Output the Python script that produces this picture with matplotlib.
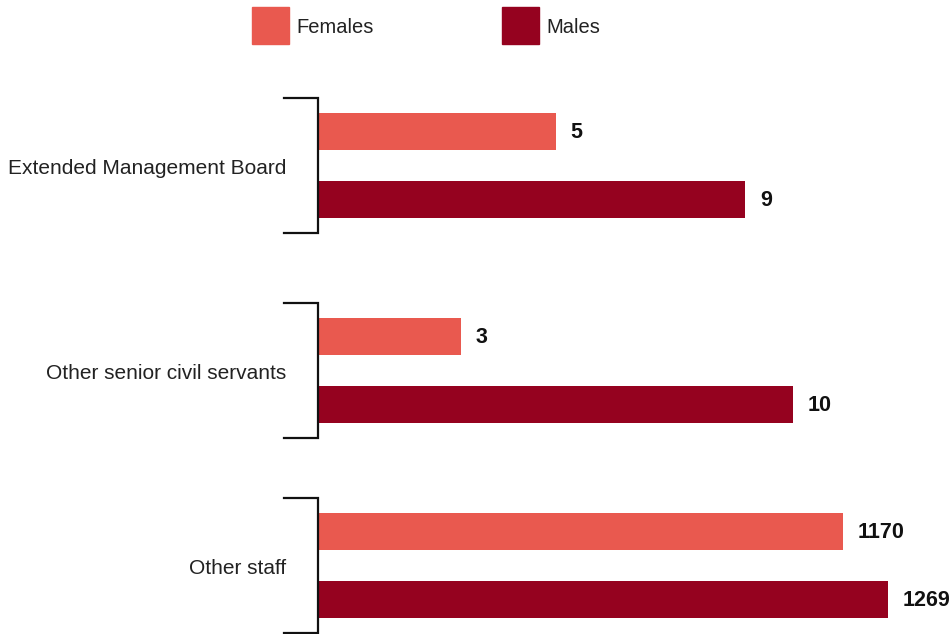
import matplotlib
matplotlib.use("Agg")
import matplotlib.pyplot as plt
from matplotlib.patches import Rectangle

plt.rcParams['font.family'] = ['Liberation Sans', 'DejaVu Sans']

groups = ["Extended Management Board", "Other senior civil servants", "Other staff"]
females = [5, 3, 1170]
males = [9, 10, 1269]
series_names = ["Females", "Males"]
colors = ["#E9594F", "#95021F"]
# each group is drawn against its own value scale
x_max = [12.05, 12.05, 1274]

W, H = 953, 634
fig = plt.figure(figsize=(W / 100, H / 100), dpi=100)

def px_rect(x0, y0, x1, y1):
    return [x0 / W, 1 - y1 / H, (x1 - x0) / W, (y1 - y0) / H]

ax_left, ax_right = 319, 890
bracket_tops = [98, 303, 498]
bracket_h = 135
tick_len = 35

for i, name in enumerate(groups):
    top = bracket_tops[i]
    ax = fig.add_axes(px_rect(ax_left, top, ax_right, top + bracket_h))
    vals = [females[i], males[i]]
    ax.barh([0, 1], vals, height=0.544, color=colors, left=0)
    ax.set_xlim(0, x_max[i])
    ax.set_ylim(1.49, -0.49)
    for y, v in zip([0, 1], vals):
        ax.annotate(f"{v}", xy=(v, y), xytext=(10.5, -1), textcoords="offset points",
                    ha="left", va="center", fontsize=15.5, fontweight="bold",
                    color="#111111")
    ax.axis("off")
    # bracket enclosing the pair of bars
    dx = tick_len / (ax_right - ax_left)
    ax.plot([-dx, -1.5 / (ax_right - ax_left), -1.5 / (ax_right - ax_left), -dx],
            [1, 1, 0, 0], transform=ax.transAxes, color="#111111", lw=1.6,
            clip_on=False, solid_joinstyle="miter")
    ax.text(-33 / (ax_right - ax_left), 0.48, name, transform=ax.transAxes,
            ha="right", va="center", fontsize=15, color="#222222")

# legend
leg_x = [252, 502]
for x, c, lab in zip(leg_x, colors, series_names):
    fig.patches.append(Rectangle((x / W, 1 - 44 / H), 37 / W, 37 / H,
                                 transform=fig.transFigure, color=c))
    fig.text((x + 44) / W, 1 - 27.5 / H, lab, ha="left", va="center",
             fontsize=14.5, color="#222222")

fig.savefig("out.png", dpi=100)
